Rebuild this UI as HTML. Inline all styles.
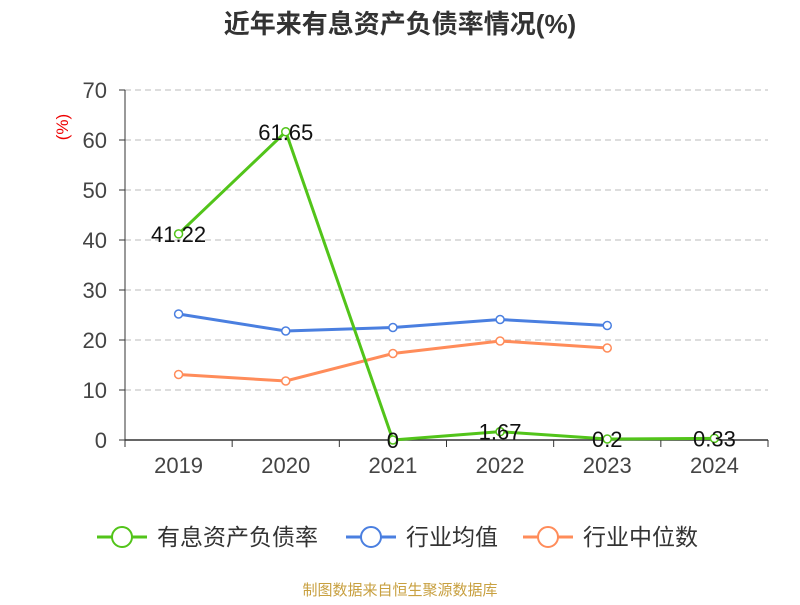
<!DOCTYPE html>
<html><head><meta charset="utf-8"><style>
body{margin:0;background:#fff;font-family:"Liberation Sans","Noto Sans CJK SC",sans-serif;}
svg text{font-family:"Liberation Sans","Noto Sans CJK SC",sans-serif;}
</style></head><body>
<svg id="c" width="800" height="600" xmlns="http://www.w3.org/2000/svg">
<text x="400" y="33" text-anchor="middle" font-size="26" font-weight="bold" fill="#333">近年来有息资产负债率情况(%)</text>
<text x="68" y="127" font-size="17" fill="#e00" transform="rotate(-90 68 127)" text-anchor="middle">(%)</text>
<g id="grid"></g><g id="axes"></g><g id="series"></g>
<g>
<g><line x1="97" y1="537" x2="147" y2="537" stroke="#52c41a" stroke-width="3"/><circle cx="122" cy="537" r="10" fill="#fff" stroke="#52c41a" stroke-width="2"/><text x="157" y="545" font-size="23" fill="#333">有息资产负债率</text></g>
<g><line x1="346" y1="537" x2="396" y2="537" stroke="#4a7fe0" stroke-width="3"/><circle cx="371" cy="537" r="10" fill="#fff" stroke="#4a7fe0" stroke-width="2"/><text x="406" y="545" font-size="23" fill="#333">行业均值</text></g>
<g><line x1="523" y1="537" x2="573" y2="537" stroke="#ff8c5a" stroke-width="3"/><circle cx="548" cy="537" r="10" fill="#fff" stroke="#ff8c5a" stroke-width="2"/><text x="583" y="545" font-size="23" fill="#333">行业中位数</text></g>
</g>
<text x="400" y="595" text-anchor="middle" font-size="15" fill="#c8a040">制图数据来自恒生聚源数据库</text>
</svg>
<script>
const categories=["2019","2020","2021","2022","2023","2024"];
const debtValues=[41.22,61.65,0,1.67,0.2,0.33];
const debtLabels=["41.22","61.65","0","1.67","0.2","0.33"];
const avgValues=[25.2,21.8,22.5,24.1,22.9];
const medianValues=[13.1,11.8,17.3,19.8,18.4];
const yTicks=[0,10,20,30,40,50,60,70];
const NS="http://www.w3.org/2000/svg";
const L=125,R=768,T=90,B=440,yMax=70;
const bw=(R-L)/categories.length;
const x=i=>L+bw*(i+0.5);
const y=v=>B-(v/yMax)*(B-T);
function mk(p,tag,a){const e=document.createElementNS(NS,tag);for(const k in a)e.setAttribute(k,a[k]);p.appendChild(e);return e;}
const grid=document.getElementById('grid'),axes=document.getElementById('axes'),ser=document.getElementById('series');
yTicks.forEach(t=>{
 if(t>0){const g=mk(grid,'line',{x1:L,x2:R,y1:y(t),y2:y(t),stroke:'#bbb','stroke-dasharray':'6,4'});
 
 }
 const tk=mk(axes,'line',{x1:L-6,x2:L,y1:y(t),y2:y(t),stroke:'#333'});
 
 
 const tx=mk(axes,'text',{x:L-18,y:y(t)+8,'text-anchor':'end','font-size':22,fill:'#444'});tx.textContent=t;
 
 
});
const ya=mk(axes,'line',{x1:L,x2:L,y1:T,y2:B,stroke:'#333'});


const xa=mk(axes,'line',{x1:L,x2:R,y1:B,y2:B,stroke:'#333','stroke-width':1.5});


for(let i=0;i<=categories.length;i++){const t=mk(axes,'line',{x1:L+bw*i,x2:L+bw*i,y1:B,y2:B+7,stroke:'#333'});
 
 }
categories.forEach((c,i)=>{const t=mk(axes,'text',{x:x(i),y:B+33,'text-anchor':'middle','font-size':22,fill:'#444'});t.textContent=c;
 
 });
function line(vals,color,name){
 const pl=mk(ser,'polyline',{points:vals.map((v,i)=>x(i)+','+y(v)).join(' '),fill:'none',stroke:color,'stroke-width':3});
 
 
 vals.forEach((v,i)=>{const c=mk(ser,'circle',{cx:x(i),cy:y(v),r:4,fill:'#fff',stroke:color,'stroke-width':1.5});
 
 });
}
line(avgValues,'#4a7fe0','industry-avg');
line(medianValues,'#ff8c5a','industry-median');
line(debtValues,'#52c41a','debt-ratio');
debtValues.forEach((v,i)=>{const t=mk(ser,'text',{x:x(i),y:y(v)+8,'text-anchor':'middle','font-size':22,fill:'#111'});t.textContent=debtLabels[i];
 
 });
</script>
</body></html>
